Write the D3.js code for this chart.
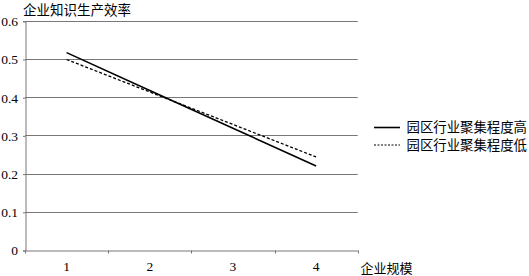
<!DOCTYPE html>
<html><head><meta charset="utf-8">
<script src="https://cdn.jsdelivr.net/npm/d3@7"></script>
<style>body{margin:0;background:#fff;} svg{display:block;} .num{font-family:"Liberation Serif","DejaVu Serif",serif;} .cjk{font-family:"Noto Sans CJK SC",sans-serif;}</style>
</head><body>
<svg id="c" width="529" height="276"></svg>
<script>
const categories = ["1","2","3","4"];
const seriesNames = ["园区行业聚集程度高","园区行业聚集程度低"];
const highValues = [0.518, 0.419, 0.320, 0.221];
const lowValues = [0.500, 0.415, 0.330, 0.245];
const yTicks = [0, 0.1, 0.2, 0.3, 0.4, 0.5, 0.6];
const yTitle = "企业知识生产效率";
const xTitle = "企业规模";

(function(){
const svg = d3.select("#c");
const mL = 25, mR = 357.7, mT = 21.3, mB = 250.5;
const x = d3.scaleBand().domain(categories).range([mL, mR]);
const y = d3.scaleLinear().domain([0, 0.6]).range([mB, mT]);
const grey = "#777";

// gridlines
svg.append("g").selectAll("line").data(yTicks.filter(d => d > 0)).join("line")
  .attr("x1", mL).attr("x2", mR)
  .attr("y1", d => Math.floor(y(d)) + 0.5).attr("y2", d => Math.floor(y(d)) + 0.5)
  .attr("stroke", grey).attr("stroke-width", 1);

// y axis
const ya = svg.append("g").attr("transform", `translate(${mL + 0.5},0)`)
  .call(d3.axisLeft(y).tickValues(yTicks).tickSize(2.5).tickPadding(5).tickFormat(d => d === 0 ? "0" : d3.format(".1f")(d)));
ya.attr("font-family", null);
ya.select(".domain").attr("stroke", grey);
ya.selectAll(".tick line").attr("stroke", grey);
ya.selectAll("text").attr("class", "num").attr("font-size", 13.5).attr("fill", "#000");

// x axis
const xa = svg.append("g").attr("transform", `translate(0,${Math.floor(y(0)) + 0.5})`)
  .call(d3.axisBottom(x).tickSize(0).tickPadding(10.6));
xa.attr("font-family", null);
xa.select(".domain").attr("stroke", grey);
xa.selectAll("text").attr("class", "num").attr("font-size", 13.5).attr("fill", "#000");
const bounds = [mL].concat(categories.map(c => x(c) + x.bandwidth()));
xa.append("g").selectAll("line").data(bounds).join("line")
  .attr("x1", d => Math.round(d) + 0.5).attr("x2", d => Math.round(d) + 0.5)
  .attr("y1", 0).attr("y2", 3).attr("stroke", grey);

// lines
const line = d3.line().x((d, i) => x(categories[i]) + x.bandwidth() / 2).y(d => y(d));
svg.append("path").datum(highValues).attr("d", line)
  .attr("fill", "none").attr("stroke", "#000").attr("stroke-width", 1.6);
svg.append("path").datum(lowValues).attr("d", line)
  .attr("fill", "none").attr("stroke", "#000").attr("stroke-width", 1.3).attr("stroke-dasharray", "3,2");

// titles
svg.append("text").attr("class", "cjk").attr("x", 23).attr("y", 14.5).text(yTitle)
  .attr("font-size", 13.5).attr("fill", "#000");
svg.append("text").attr("class", "cjk").attr("x", 360.5).attr("y", 272.5).text(xTitle)
  .attr("font-size", 13).attr("fill", "#000");

// legend
const leg = svg.append("g");
const ly = [127.5, 145];
seriesNames.forEach((n, i) => {
  leg.append("line").attr("x1", 374).attr("x2", 400).attr("y1", ly[i]).attr("y2", ly[i])
    .attr("stroke", "#000").attr("stroke-width", i === 0 ? 1.6 : 1.2)
    .attr("stroke-dasharray", i === 0 ? null : "2,1.5");
  leg.append("text").attr("class", "cjk").attr("x", 406.5).attr("y", ly[i]).attr("dy", "0.36em").text(n)
    .attr("font-size", 13.4).attr("fill", "#000");
});
})();
</script>
</body></html>
